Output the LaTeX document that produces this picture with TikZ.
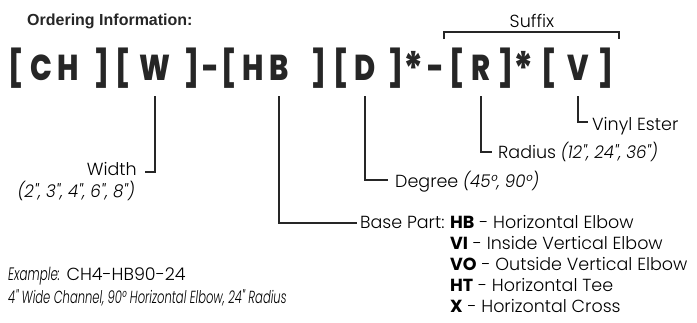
\documentclass[tikz,border=0pt]{standalone}
\usepackage{fontspec}
\setmainfont{Poppins}[UprightFont=* Light, ItalicFont=* Light Italic, BoldFont=* Bold]
\newfontfamily\condit{Poppins}[UprightFont=* Light Italic, FakeStretch=0.95]
\newfontfamily\condnar{Poppins}[UprightFont=* Light Italic, FakeStretch=0.66]
\newfontfamily\codefont{Poppins}[UprightFont=* ExtraBold, FakeStretch=0.8]
\newfontfamily\headfont{Liberation Sans}[UprightFont=* Bold]
\usetikzlibrary{positioning,calc}

\tikzset{
  code/.style={inner sep=0pt, anchor=base, text=black!85, font=\codefont\fontsize{36}{40}\selectfont},
  starmark/.style={code, font=\codefont\fontsize{46}{50}\selectfont},
  lbl/.style={inner sep=0pt, font=\fontsize{17.5}{20}\selectfont},
  conn/.style={line width=1.3pt, black!85}
}

\begin{document}
\begin{tikzpicture}[x=1pt, y=-1pt]
    \useasboundingbox (0,0) rectangle (697,322);

    % Heading
    \node[inner sep=0pt, anchor=base west, font=\headfont\fontsize{16}{18}\selectfont, text=black!85] (head) at (27,25) {Ordering Information:};

    % Part number, one glyph at a time
    \foreach \x/\g/\n in {16/{[}/ob1, 41/C/c, 68/H/h, 102/{]}/cb1, 123/{[}/ob2, 155/W/w, 192/{]}/cb2, 211/-/dash1,
        229/{[}/ob3, 253/H/hbh, 279/B/hbb, 319/{]}/cb3, 341/{[}/ob4, 365/D/d, 396/{]}/cb4,
        436/-/dash2, 457/{[}/ob5, 481/R/r, 506/{]}/cb5, 549/{[}/ob6, 578/V/v, 606/{]}/cb6}
        \node[code] (\n) at (\x,80) {\g};
    \node[starmark] (star1) at (414,85) {*};
    \node[starmark] (star2) at (524,85) {*};

    % Suffix bracket
    \node[lbl, anchor=base] (suffix) at (532,27) {Suffix};
    \draw[conn] (444,39) -- (444,32) -- (619,32) -- (619,39);

    % Labels
    \coordinate (drop) at (0,96);
    \node[lbl, anchor=base east] (width) at (137,175) {Width};
    \node[lbl, anchor=base east, font=\condit\fontsize{17.5}{20}\selectfont] (widthvals) at (135,197) {(2", 3", 4", 6", 8")};
    \node[lbl, anchor=base west] (degree) at (395,187) {Degree {\condit (45°, 90°)}};
    \node[lbl, anchor=base west] (radius) at (498,158) {Radius {\condit (12", 24", 36")}};
    \node[lbl, anchor=base west] (vinyl) at (592,130) {Vinyl Ester};
    \node[lbl, anchor=base west] (base) at (360,228) {Base Part:};

    % Base part list
    \foreach \k/\c/\t in {0/HB/Horizontal Elbow, 1/VI/Inside Vertical Elbow, 2/VO/Outside Vertical Elbow,
        3/HT/Horizontal Tee, 4/X/Horizontal Cross}
        \node[lbl, anchor=base west] (part\k) at (450,228+21*\k) {\textbf{\c} - \t};

    % Leaders
    \draw[conn] (w |- drop) |- ([shift={(8,-3)}]width.base east);
    \draw[conn] (hbb |- drop) |- ([shift={(-3,-5)}]base.base west);
    \draw[conn] (d |- drop) |- ([shift={(-7,-7)}]degree.base west);
    \draw[conn] (r |- drop) |- ([shift={(-6,-6)}]radius.base west);
    \draw[conn] (v |- drop) |- ([shift={(-4,-8)}]vinyl.base west);

    % Example
    \node[lbl, anchor=base west] (example) at (8,280) {{\condnar\fontsize{18}{20}\selectfont Example:} CH4-HB90-24};
    \node[lbl, anchor=base west, font=\condnar\fontsize{17.5}{20}\selectfont] (exdesc) at (8,303) {4" Wide Channel, 90° Horizontal Elbow, 24" Radius};
\end{tikzpicture}
\end{document}
